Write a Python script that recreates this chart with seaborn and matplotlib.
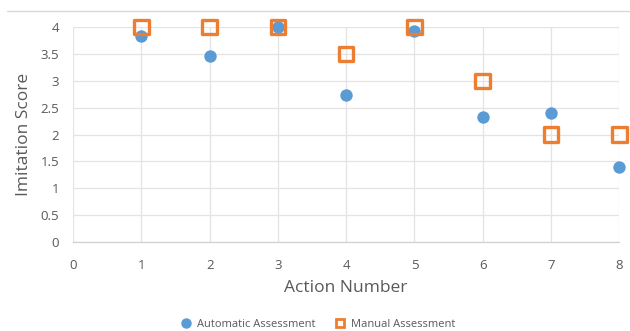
import matplotlib
matplotlib.use("Agg")
import matplotlib.pyplot as plt
from matplotlib.lines import Line2D
import seaborn as sns
import pandas as pd

actions = [1, 2, 3, 4, 5, 6, 7, 8]
automatic = [3.83, 3.47, 4.0, 2.73, 3.93, 2.33, 2.40, 1.40]
manual = [4, 4, 4, 3.5, 4, 3, 2, 2]
x_ticks = [0, 1, 2, 3, 4, 5, 6, 7, 8]
y_ticks = [0, 0.5, 1, 1.5, 2, 2.5, 3, 3.5, 4]
y_tick_labels = ["0", "0.5", "1", "1.5", "2", "2.5", "3", "3.5", "4"]

sns.set_theme(style="white")
plt.rcParams["font.family"] = ["Open Sans", "DejaVu Sans"]

blue = "#5B9BD5"
orange = "#ED7D31"
grid_c = "#E3E3E3"
text_c = "#595959"

df_auto = pd.DataFrame({"Action": actions, "Score": automatic})
df_man = pd.DataFrame({"Action": actions, "Score": manual})

fig = plt.figure(figsize=(6.3, 3.31), dpi=100)
ax = fig.add_axes([0.116, 0.269, 0.867, 0.649])

sns.scatterplot(data=df_auto, x="Action", y="Score", ax=ax, marker="o", s=80,
                color=blue, edgecolor=blue, linewidth=0, zorder=3)
sns.scatterplot(data=df_man, x="Action", y="Score", ax=ax, marker="s", s=110,
                facecolor="none", edgecolor=orange, linewidth=2.4, zorder=4)
for coll in ax.collections:
    coll.set_clip_on(False)

ax.set_xlim(0, 8)
ax.set_ylim(0, 4)
ax.set_xticks(x_ticks)
ax.set_yticks(y_ticks)
ax.set_yticklabels(y_tick_labels)
ax.grid(True, color=grid_c, linewidth=0.9)
ax.set_axisbelow(True)
for side in ["top", "right", "left"]:
    ax.spines[side].set_visible(False)
ax.spines["bottom"].set_color("#D0D0D0")
ax.spines["bottom"].set_linewidth(0.9)
ax.tick_params(axis="both", length=0, labelsize=9.5, labelcolor=text_c)
ax.tick_params(axis="x", pad=12)
ax.tick_params(axis="y", pad=10)
ax.set_xlabel("Action Number", fontsize=12.5, color=text_c, labelpad=6)
ax.set_ylabel("Imitation Score", fontsize=12.5, color=text_c, labelpad=6)

# thin frame line across the top of the chart
fig.add_artist(Line2D([0.011, 1.0], [0.967, 0.967], color="#D9D9D9", linewidth=1.0,
                      transform=fig.transFigure))

handles = [
    Line2D([], [], marker="o", linestyle="none", markersize=6.5, color=blue),
    Line2D([], [], marker="s", linestyle="none", markersize=6,
           markerfacecolor="white", markeredgecolor=orange, markeredgewidth=2),
]
fig.legend(handles, ["Automatic Assessment", "Manual Assessment"], loc="center",
           bbox_to_anchor=(0.5, 0.02), ncol=2, frameon=False, fontsize=8,
           handletextpad=0.0, columnspacing=1.2, labelcolor=text_c)

fig.savefig("out.png", dpi=100)
